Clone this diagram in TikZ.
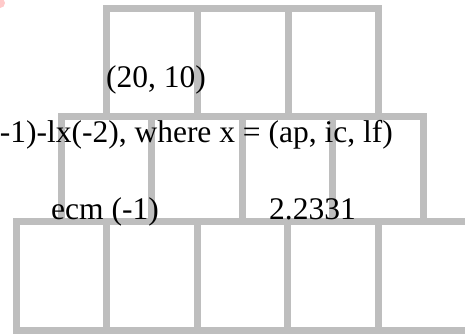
\documentclass[tikz,border=0pt]{standalone}
\usepackage{fontspec}
\setmainfont{Liberation Serif}
\definecolor{wallgray}{RGB}{190,190,190}
\tikzset{
  brick/.style={draw=wallgray, line width=7pt},
  walltext/.style={font=\fontsize{31.5}{37}\selectfont, inner sep=0pt, text=black},
}
\begin{document}
\begin{tikzpicture}[x=1pt, y=-1pt]
  \useasboundingbox (0,0) rectangle (465,335);
  \clip (0,0) rectangle (465,335);
  % stray mark in the corner
  \fill[red!35, opacity=0.6] (0,3) circle (5);
  % rows of bricks
  \foreach \i in {0,1,2}
    \draw[brick] (106.5+90.8*\i, 8.5) rectangle ++(90.8, 108);
  \foreach \i in {0,...,3}
    \draw[brick] (61.5+90.4*\i, 116.5) rectangle ++(90.4, 105);
  \foreach \i in {0,...,4}
    \draw[brick] (16+90.5*\i, 221.5) rectangle ++(90.5, 108.5);
  % texts
  \node[walltext, anchor=base west] (pair) at (106,87) {(20, 10)};
  \node[walltext, anchor=base east] (formula) at (393,142) {-1)-lx(-2), where x = (ap, ic, lf)};
  \node[walltext, anchor=base west] (ecm) at (51,219) {ecm (-1)};
  \node[walltext, anchor=base west] (value) at (269,219) {2.2331};
\end{tikzpicture}
\end{document}
